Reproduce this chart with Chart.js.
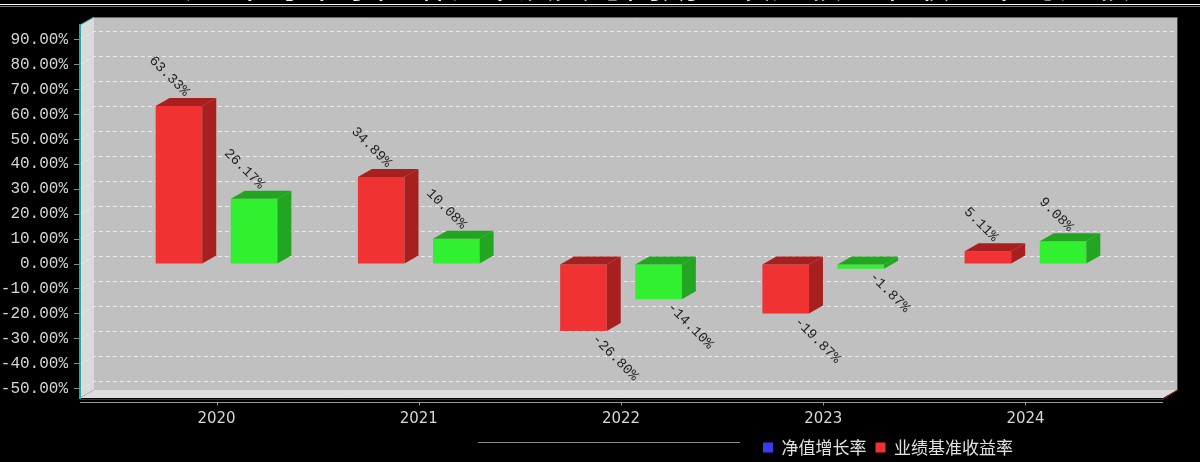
<!DOCTYPE html>
<html>
<head>
<meta charset="utf-8">
<script src="https://cdn.jsdelivr.net/npm/chart.js@4.4.1/dist/chart.umd.min.js"></script>
<style>
  html, body { margin: 0; background: #000; }
  canvas { display: block; }
</style>
</head>
<body>
<canvas id="chart" width="1200" height="462"></canvas>
<script>
// data
const years = ['2020', '2021', '2022', '2023', '2024'];
const navGrowth = [63.33, 34.89, -26.80, -19.87, 5.11];
const benchReturn = [26.17, 10.08, -14.10, -1.87, 9.08];
const seriesNames = ['净值增长率', '业绩基准收益率'];
const titleText = '基金过去五年每年净值增长率及其与同期业绩比较基准收益率的比较';

const frontColors = ['#f03232', '#30f030'];
const darkColors = ['#a81f1f', '#22a622'];
const legendColors = ['#3a3af0', '#f03232'];
const legendTextColor = '#e2e2e2';

// 3D depth of the box and the bars
const DX = 14, DY = 8;
const plotBottom = 398;

function poly(ctx, pts, fill) {
    ctx.beginPath();
    ctx.moveTo(pts[0][0], pts[0][1]);
    for (let i = 1; i < pts.length; i++) ctx.lineTo(pts[i][0], pts[i][1]);
    ctx.closePath();
    ctx.fillStyle = fill;
    ctx.fill();
}

const box3d = {
    id: 'box3d',
    afterLayout(chart) {
        // move legend to the right of centre like in the original
        const lg = chart.legend;
        const w = lg.right - lg.left, h = lg.bottom - lg.top;
        lg.left = 754;
        lg.right = lg.left + w;
        lg.top = 430;
        lg.bottom = lg.top + h;
    },
    beforeDraw(chart) {
        const { ctx, chartArea: a, scales: { y } } = chart;
        ctx.save();
        ctx.fillStyle = '#000';
        ctx.fillRect(0, 0, chart.width, chart.height);

        // cut off title at the very top
        ctx.font = '36px "Noto Sans CJK SC"';
        ctx.fillStyle = '#f0f0f0';
        ctx.textAlign = 'center';
        ctx.textBaseline = 'alphabetic';
        ctx.fillText(titleText, 590, -2);
        ctx.fillStyle = '#ffffff';
        ctx.fillRect(0, 4, 1200, 1);
        ctx.fillStyle = '#777';
        ctx.fillRect(0, 6, 1200, 1);

        // back plane, wall, floor
        ctx.fillStyle = '#c0c0c0';
        ctx.fillRect(a.left + DX, a.top - DY, a.right - a.left, a.bottom - a.top);
        poly(ctx, [[a.left, a.top], [a.left + DX, a.top - DY], [a.left + DX, a.bottom - DY], [a.left, a.bottom]], '#dadada');
        poly(ctx, [[a.left, a.bottom], [a.left + DX, a.bottom - DY], [a.right + DX, a.bottom - DY], [a.right, a.bottom]], '#dcdcdc');

        // dashed grid on the back plane and the wall
        ctx.strokeStyle = '#ececec';
        ctx.lineWidth = 1;
        ctx.setLineDash([4, 3]);
        y.ticks.forEach(t => {
            const py = Math.round(y.getPixelForValue(t.value)) + 0.5;
            ctx.beginPath();
            ctx.moveTo(a.left, py);
            ctx.lineTo(a.left + DX, py - DY);
            ctx.lineTo(a.right + DX, py - DY);
            ctx.stroke();
        });
        ctx.setLineDash([]);

        // edges
        ctx.strokeStyle = '#6a6a6a';
        ctx.beginPath();
        ctx.moveTo(a.left + DX, a.top - DY + 0.5);
        ctx.lineTo(a.right + DX, a.top - DY + 0.5);
        ctx.stroke();
        ctx.strokeStyle = '#2aa6a6';
        ctx.beginPath();
        ctx.moveTo(a.left, a.top);
        ctx.lineTo(a.left + DX, a.top - DY);
        ctx.stroke();
        ctx.strokeStyle = '#b01818';
        ctx.beginPath();
        ctx.moveTo(a.right + DX + 0.5, a.top - DY);
        ctx.lineTo(a.right + DX + 0.5, a.bottom - DY);
        ctx.lineTo(a.right, a.bottom + 1);
        ctx.stroke();
        ctx.restore();
    },
    afterDatasetsDraw(chart) {
        const ctx = chart.ctx;
        ctx.save();
        ctx.font = '14px "Liberation Mono"';
        chart.data.datasets.forEach((ds, di) => {
            const meta = chart.getDatasetMeta(di);
            meta.data.forEach((bar, i) => {
                const { x, y, base, width } = bar.getProps(['x', 'y', 'base', 'width'], true);
                const top = Math.min(y, base), bot = Math.max(y, base);
                const x0 = x - width / 2, x1 = x + width / 2;
                poly(ctx, [[x0, top], [x1, top], [x1 + DX, top - DY], [x0 + DX, top - DY]], darkColors[di]);
                poly(ctx, [[x1, top], [x1 + DX, top - DY], [x1 + DX, bot - DY], [x1, bot]], darkColors[di]);

                // value label, turned 45 degrees
                const v = ds.data[i];
                const txt = v.toFixed(2) + '%';
                ctx.fillStyle = '#1e1e1e';
                ctx.save();
                ctx.textBaseline = 'middle';
                if (v >= 0) {
                    ctx.translate(x + 8, top - 12);
                    ctx.rotate(Math.PI / 4);
                    ctx.textAlign = 'right';
                } else {
                    ctx.translate(x + 11, bot + 6);
                    ctx.rotate(Math.PI / 4);
                    ctx.textAlign = 'left';
                }
                ctx.fillText(txt, 0, 0);
                ctx.restore();
            });
        });
        ctx.restore();
    },
    afterDraw(chart) {
        const { ctx, chartArea: a, scales: { x } } = chart;
        ctx.save();
        ctx.strokeStyle = '#333';
        ctx.beginPath();
        ctx.moveTo(a.left, a.bottom + 1.5);
        ctx.lineTo(a.right, a.bottom + 1.5);
        ctx.stroke();
        ctx.strokeStyle = '#9a9a9a';
        ctx.beginPath();
        ctx.moveTo(a.left, a.bottom + 4.5);
        ctx.lineTo(a.right, a.bottom + 4.5);
        x.ticks.forEach(t => {
            const px = Math.round(x.getPixelForValue(t.value)) + 0.5;
            ctx.moveTo(px, a.bottom + 4.5);
            ctx.lineTo(px, a.bottom + 7.5);
        });
        ctx.stroke();
        // faint rule under the chart
        ctx.strokeStyle = '#8a8a8a';
        ctx.beginPath();
        ctx.moveTo(478, 442.5);
        ctx.lineTo(740, 442.5);
        ctx.stroke();
        ctx.restore();
    }
};

const ctx = document.getElementById('chart').getContext('2d');
const chart = new Chart(ctx, {
    type: 'bar',
    data: {
        labels: years,
        datasets: [{
            label: seriesNames[0],
            data: navGrowth,
            backgroundColor: frontColors[0],
            categoryPercentage: 0.743,
            barPercentage: 0.62,
        }, {
            label: seriesNames[1],
            data: benchReturn,
            backgroundColor: frontColors[1],
            categoryPercentage: 0.743,
            barPercentage: 0.62,
        }]
    },
    options: {
        responsive: false,
        animation: false,
        layout: { padding: { top: 25, right: 37, left: 0, bottom: 0 } },
        plugins: {
            tooltip: { enabled: false },
            legend: {
                position: 'bottom',
                align: 'start',
                labels: {
                    boxWidth: 10,
                    boxHeight: 10,
                    padding: 9,
                    color: legendTextColor,
                    font: { family: '"Noto Sans CJK SC"', size: 17 },
                    generateLabels: (c) => c.data.datasets.map((ds, i) => ({
                        text: ds.label,
                        fillStyle: legendColors[i],
                        strokeStyle: legendColors[i],
                        fontColor: legendTextColor,
                        lineWidth: 0,
                        hidden: false,
                        datasetIndex: i,
                    })),
                },
            },
        },
        scales: {
            x: {
                type: 'linear',
                min: 2019.325,
                max: 2024.68,
                offset: false,
                grid: { display: false, drawTicks: false, offset: false },
                border: { display: false },
                ticks: {
                    stepSize: 1,
                    includeBounds: false,
                    autoSkip: false,
                    maxRotation: 0,
                    padding: 12,
                    color: '#d6d6d6',
                    font: { family: '"DejaVu Sans"', size: 15 },
                    callback: (v) => String(v),
                },
                afterFit: (s) => { s.height = s.chart.height - plotBottom - s.chart.legend.height; },
            },
            y: {
                min: -53.7,
                max: 95.8,
                grid: { drawOnChartArea: false, drawTicks: true, tickLength: 6, color: '#8a8a8a' },
                border: { display: true, color: '#2aa6a6', width: 2 },
                ticks: {
                    stepSize: 10,
                    includeBounds: false,
                    padding: 6,
                    color: '#d6d6d6',
                    font: { family: '"Liberation Mono"', size: 16 },
                    callback: (v) => v.toFixed(2) + '%',
                },
                afterFit: (s) => { s.width = 80; },
            },
        },
    },
    plugins: [box3d],
});
</script>
</body>
</html>
